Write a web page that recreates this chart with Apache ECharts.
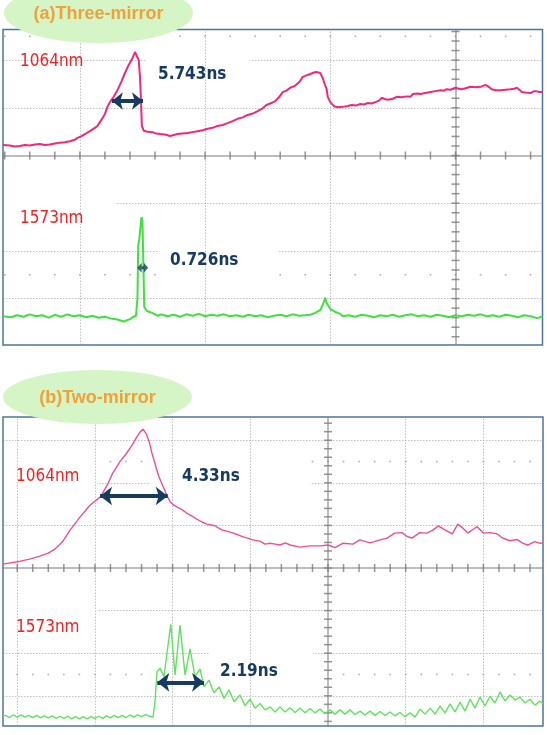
<!DOCTYPE html>
<html>
<head>
<meta charset="utf-8">
<script src="https://cdn.jsdelivr.net/npm/echarts@6/dist/echarts.min.js"></script>
<style>
  html, body { margin: 0; padding: 0; background: #fff; }
  #chart { width: 547px; height: 735px; }
</style>
</head>
<body>
<div id="chart"></div>
<script>
// oscilloscope traces in divisions (x: time div, y: volt div, 0 = centre axes)

// (a) three-mirror, 1064nm
var pinkA = [
  [-3.614,0.22],[-3.56,0.21],[-3.52,0.19],[-3.48,0.20],[-3.44,0.22],[-3.40,0.21],[-3.36,0.23],[-3.32,0.24],
  [-3.28,0.22],[-3.24,0.23],[-3.20,0.25],[-3.16,0.27],[-3.12,0.28],[-3.08,0.30],[-3.04,0.33],[-3.02,0.37],
  [-2.99,0.40],[-2.96,0.45],[-2.92,0.51],[-2.88,0.58],[-2.86,0.62],[-2.84,0.70],[-2.82,0.78],[-2.80,0.87],
  [-2.78,1.02],[-2.76,1.12],[-2.73,1.23],[-2.70,1.37],[-2.67,1.54],[-2.64,1.73],[-2.61,1.90],[-2.58,2.04],
  [-2.56,2.17],[-2.545,2.15],[-2.53,2.00],[-2.52,1.65],[-2.512,1.16],[-2.505,0.62],[-2.49,0.52],[-2.48,0.51],
  [-2.46,0.50],[-2.42,0.49],[-2.39,0.46],[-2.36,0.45],[-2.32,0.44],[-2.28,0.41],[-2.25,0.43],[-2.22,0.45],
  [-2.18,0.46],[-2.14,0.47],[-2.10,0.49],[-2.06,0.51],[-2.02,0.53],[-1.98,0.56],[-1.94,0.58],[-1.90,0.62],
  [-1.86,0.64],[-1.82,0.68],[-1.78,0.72],[-1.74,0.77],[-1.70,0.80],[-1.66,0.85],[-1.62,0.88],[-1.58,0.93],
  [-1.54,0.99],[-1.51,1.06],[-1.47,1.10],[-1.44,1.14],[-1.41,1.22],[-1.38,1.33],[-1.35,1.36],[-1.32,1.42],
  [-1.29,1.45],[-1.27,1.49],[-1.24,1.56],[-1.22,1.65],[-1.19,1.68],[-1.16,1.71],[-1.13,1.74],[-1.11,1.75],
  [-1.08,1.73],[-1.06,1.62],[-1.045,1.50],[-1.03,1.40],[-1.02,1.23],[-1.00,1.12],[-0.98,1.06],[-0.96,1.02],
  [-0.93,1.01],[-0.90,1.02],[-0.86,1.04],[-0.83,1.06],[-0.79,1.05],[-0.76,1.08],[-0.73,1.07],[-0.70,1.10],
  [-0.67,1.09],[-0.64,1.12],[-0.61,1.15],[-0.59,1.21],[-0.56,1.18],[-0.54,1.17],[-0.50,1.19],[-0.47,1.23],
  [-0.43,1.22],[-0.39,1.24],[-0.36,1.23],[-0.34,1.29],[-0.33,1.31],[-0.30,1.30],[-0.28,1.29],[-0.24,1.31],
  [-0.20,1.33],[-0.16,1.35],[-0.12,1.37],[-0.09,1.36],[-0.07,1.39],[-0.04,1.38],[0.00,1.42],[0.03,1.40],
  [0.05,1.39],[0.08,1.41],[0.12,1.44],[0.16,1.43],[0.20,1.44],[0.22,1.46],[0.24,1.48],[0.26,1.45],
  [0.29,1.39],[0.32,1.37],[0.36,1.37],[0.40,1.38],[0.44,1.39],[0.47,1.40],[0.49,1.42],[0.51,1.38],
  [0.53,1.33],[0.56,1.32],[0.60,1.31],[0.62,1.34],[0.64,1.35],[0.67,1.33],[0.695,1.33]
];

// (a) three-mirror, 1573nm
var greenA = [
  [-3.614,-3.37],[-3.55,-3.39],[-3.50,-3.35],[-3.45,-3.38],[-3.40,-3.33],[-3.35,-3.37],[-3.30,-3.35],[-3.25,-3.40],
  [-3.20,-3.34],[-3.15,-3.38],[-3.10,-3.33],[-3.05,-3.37],[-3.00,-3.35],[-2.95,-3.39],[-2.90,-3.36],[-2.85,-3.40],
  [-2.80,-3.38],[-2.75,-3.42],[-2.70,-3.44],[-2.65,-3.48],[-2.60,-3.43],[-2.57,-3.38],[-2.552,-3.36],
  [-2.540,-2.99],[-2.534,-1.88],[-2.526,-1.77],[-2.518,-1.56],[-2.508,-1.29],[-2.500,-1.39],[-2.492,-2.40],
  [-2.486,-3.18],[-2.464,-3.26],[-2.424,-3.30],[-2.376,-3.36],
  [-2.35,-3.33],[-2.30,-3.37],[-2.25,-3.34],[-2.20,-3.38],[-2.15,-3.33],[-2.10,-3.36],[-2.05,-3.32],[-2.00,-3.37],
  [-1.95,-3.34],[-1.90,-3.36],[-1.85,-3.33],[-1.80,-3.37],[-1.75,-3.35],[-1.70,-3.38],[-1.65,-3.34],[-1.60,-3.37],
  [-1.55,-3.35],[-1.50,-3.39],[-1.45,-3.36],[-1.40,-3.34],[-1.35,-3.37],[-1.30,-3.33],[-1.25,-3.36],[-1.20,-3.35],
  [-1.16,-3.34],[-1.12,-3.30],[-1.08,-3.24],[-1.06,-3.13],[-1.04,-2.98],[-1.03,-3.09],[-1.00,-3.22],[-0.96,-3.28],
  [-0.92,-3.32],[-0.90,-3.37],[-0.85,-3.35],[-0.80,-3.38],[-0.75,-3.34],[-0.70,-3.36],[-0.65,-3.39],[-0.60,-3.35],
  [-0.55,-3.37],[-0.50,-3.34],[-0.45,-3.38],[-0.40,-3.35],[-0.35,-3.33],[-0.30,-3.37],[-0.25,-3.35],[-0.20,-3.38],
  [-0.15,-3.34],[-0.10,-3.36],[-0.05,-3.39],[0.00,-3.35],[0.05,-3.37],[0.10,-3.34],[0.15,-3.36],[0.20,-3.33],
  [0.25,-3.37],[0.30,-3.35],[0.35,-3.38],[0.40,-3.34],[0.45,-3.36],[0.50,-3.39],[0.55,-3.35],[0.60,-3.37],
  [0.65,-3.41],[0.695,-3.38]
];

// (b) two-mirror, 1064nm
var pinkB = [
  [-4.183,0.09],[-4.09,0.12],[-3.96,0.16],[-3.84,0.21],[-3.71,0.28],[-3.60,0.35],[-3.51,0.45],[-3.42,0.61],
  [-3.32,0.89],[-3.19,1.20],[-3.06,1.48],[-2.93,1.67],[-2.84,1.95],[-2.77,2.23],[-2.68,2.49],[-2.59,2.70],
  [-2.52,2.89],[-2.46,3.08],[-2.42,3.19],[-2.38,3.26],[-2.34,3.15],[-2.30,2.96],[-2.27,2.72],[-2.23,2.47],
  [-2.18,2.16],[-2.12,1.90],[-2.07,1.69],[-2.03,1.55],[-1.98,1.47],[-1.94,1.43],[-1.88,1.37],[-1.82,1.29],
  [-1.75,1.22],[-1.69,1.15],[-1.62,1.08],[-1.56,1.03],[-1.50,1.01],[-1.45,0.99],[-1.41,0.94],[-1.36,0.89],
  [-1.29,0.86],[-1.22,0.82],[-1.16,0.78],[-1.09,0.73],[-1.03,0.70],[-0.97,0.66],[-0.88,0.63],[-0.81,0.56],
  [-0.75,0.58],[-0.68,0.56],[-0.62,0.54],[-0.55,0.59],[-0.49,0.54],[-0.36,0.49],[-0.23,0.52],[-0.10,0.52],
  [0.00,0.54],[0.09,0.48],[0.19,0.58],[0.32,0.56],[0.41,0.66],[0.54,0.59],[0.67,0.66],[0.76,0.70],
  [0.86,0.82],[0.95,0.83],[1.02,0.74],[1.08,0.70],[1.18,0.83],[1.27,0.82],[1.35,0.89],[1.42,0.99],
  [1.51,0.89],[1.60,0.80],[1.67,1.03],[1.74,0.93],[1.80,0.82],[1.87,0.91],[1.92,0.97],[2.00,0.82],
  [2.09,0.83],[2.18,0.80],[2.25,0.70],[2.34,0.64],[2.43,0.67],[2.51,0.58],[2.57,0.54],[2.66,0.62],
  [2.73,0.58],[2.767,0.59]
];

// (b) two-mirror, 1573nm
var greenB = [
  [-4.183,-3.47],[-4.15,-3.46],[-4.10,-3.51],[-4.05,-3.45],[-4.00,-3.50],[-3.95,-3.45],[-3.90,-3.50],[-3.85,-3.46],
  [-3.80,-3.51],[-3.75,-3.46],[-3.70,-3.52],[-3.65,-3.47],[-3.60,-3.52],[-3.55,-3.47],[-3.50,-3.53],[-3.45,-3.48],
  [-3.40,-3.53],[-3.35,-3.48],[-3.30,-3.54],[-3.25,-3.49],[-3.20,-3.54],[-3.15,-3.49],[-3.10,-3.54],[-3.05,-3.49],
  [-3.00,-3.53],[-2.95,-3.48],[-2.90,-3.53],[-2.85,-3.47],[-2.80,-3.52],[-2.75,-3.46],[-2.70,-3.51],[-2.65,-3.46],
  [-2.60,-3.51],[-2.55,-3.45],[-2.50,-3.50],[-2.45,-3.45],[-2.40,-3.49],[-2.35,-3.44],[-2.30,-3.48],
  [-2.252,-3.50],[-2.227,-3.15],[-2.201,-2.44],[-2.162,-2.35],[-2.111,-2.55],[-2.024,-1.32],[-1.969,-2.51],
  [-1.905,-1.34],[-1.840,-2.51],[-1.776,-1.90],[-1.712,-2.55],[-1.647,-2.37],[-1.596,-2.79],[-1.532,-2.63],
  [-1.467,-2.93],[-1.403,-2.79],[-1.338,-3.06],[-1.274,-2.86],[-1.210,-3.14],[-1.133,-2.98],[-1.068,-3.23],
  [-1.004,-3.08],[-0.940,-3.29],[-0.875,-3.18],[-0.811,-3.33],[-0.746,-3.26],[-0.682,-3.38],[-0.618,-3.26],
  [-0.553,-3.38],[-0.489,-3.28],[-0.425,-3.39],[-0.360,-3.29],[-0.296,-3.40],[-0.232,-3.30],[-0.167,-3.40],
  [-0.103,-3.31],[-0.039,-3.42],[0.026,-3.33],[0.090,-3.43],[0.154,-3.33],[0.219,-3.43],[0.283,-3.33],
  [0.347,-3.44],[0.412,-3.36],[0.476,-3.45],[0.541,-3.36],[0.605,-3.46],[0.669,-3.37],[0.734,-3.46],
  [0.798,-3.38],[0.862,-3.47],[0.927,-3.39],[0.991,-3.49],[1.055,-3.40],[1.120,-3.50],[1.184,-3.31],
  [1.248,-3.43],[1.313,-3.29],[1.377,-3.43],[1.441,-3.24],[1.506,-3.40],[1.570,-3.19],[1.634,-3.38],
  [1.699,-3.15],[1.763,-3.36],[1.828,-3.08],[1.892,-3.29],[1.956,-3.03],[2.021,-3.24],[2.085,-3.01],
  [2.149,-3.17],[2.214,-2.91],[2.278,-3.12],[2.342,-2.98],[2.407,-3.10],[2.471,-3.03],[2.535,-3.17],
  [2.600,-3.08],[2.664,-3.22],[2.728,-3.12],[2.767,-3.19]
];

// pulse-width markers [x1, x2, y]
var widthA1064 = [-2.744, -2.496, 1.143];
var widthA1573 = [-2.498, -2.352];
var widthB1064 = [-2.934, -2.063, 1.690];
var widthB1573 = [-2.197, -1.596, -2.683];

// visible screen range of each panel, in divisions
var rangeA = { x: [-3.614, 0.695], y: [-3.973, 2.642] };
var rangeB = { x: [-4.183, 2.767], y: [-3.709, 3.545] };
var divLinesA = { x: [-3, -2, -1], y: [2, 1, -1, -2, -3] };
var divLinesB = { x: [-4, -3, -2, -1, 1, 2], y: [3, 2, 1, -1, -2, -3] };

var NAVY = '#173a63';
var LABEL_FONT = '"DejaVu Sans Condensed", "DejaVu Sans", sans-serif';

function steps(a, b, s) {
  var out = [];
  for (var v = a; v <= b + 1e-9; v += s) out.push(Math.round(v * 100) / 100);
  return out;
}

function vLines(idx, xs, r, style, z) {
  return {
    type: 'lines', coordinateSystem: 'cartesian2d', xAxisIndex: idx, yAxisIndex: idx,
    silent: true, z: z, lineStyle: style,
    data: xs.map(function (x) { return { coords: [[x, r.y[0]], [x, r.y[1]]] }; })
  };
}
function hLines(idx, ys, r, style, z) {
  return {
    type: 'lines', coordinateSystem: 'cartesian2d', xAxisIndex: idx, yAxisIndex: idx,
    silent: true, z: z, lineStyle: style,
    data: ys.map(function (y) { return { coords: [[r.x[0], y], [r.x[1], y]] }; })
  };
}
function marks(idx, pts, size, color, z) {
  return {
    type: 'scatter', xAxisIndex: idx, yAxisIndex: idx, silent: true, z: z,
    symbol: 'rect', symbolSize: size, itemStyle: { color: color }, data: pts
  };
}

// screen furniture: dotted divisions, solid centre axes with 0.2-div ticks, dotted marker rows
function screenSeries(idx, r, div) {
  var dotted = { color: '#858585', width: 1, type: [1.5, 1.5] };
  var solid = { color: '#7a7a7a', width: 2, type: 'solid' };
  var xt = steps(Math.ceil(r.x[0] * 5) / 5, r.x[1], 0.2);
  var yt = steps(Math.ceil(r.y[0] * 5) / 5, r.y[1], 0.2);
  return [
    hLines(idx, div.y, r, dotted, 1),
    vLines(idx, div.x, r, dotted, 2),
    hLines(idx, [0], r, solid, 2),
    vLines(idx, [0], r, solid, 2),
    marks(idx, xt.map(function (x) { return [x, 0]; }), [1.5, 8], '#7a7a7a', 2),
    marks(idx, yt.map(function (y) { return [0, y]; }), [8, 1.5], '#7a7a7a', 2),
    marks(idx, xt.map(function (x) { return [x, 2.5]; }).concat(xt.map(function (x) { return [x, -2.5]; })),
      1.6, '#9a9a9a', 1)
  ];
}

function trace(idx, data, color, width) {
  return {
    type: 'line', xAxisIndex: idx, yAxisIndex: idx, data: data, z: 3,
    symbol: 'none', silent: true, clip: true,
    lineStyle: { color: color, width: width }
  };
}

function widthArrow(x1, x2, y, size) {
  return {
    silent: true, symbol: ['arrow', 'arrow'], symbolSize: size, z: 5,
    label: { show: false }, emphasis: { disabled: true },
    lineStyle: { color: NAVY, width: 4, type: 'solid' },
    data: [[{ coord: [x1, y] }, { coord: [x2, y] }]]
  };
}

var sPinkA = trace(0, pinkA, '#f0287c', 2);
sPinkA.markLine = widthArrow(widthA1064[0], widthA1064[1], widthA1064[2], [13, 11]);
var sGreenA = trace(0, greenA, '#3fe03f', 2);
var sPinkB = trace(1, pinkB, '#ec4f93', 1.4);
sPinkB.markLine = widthArrow(widthB1064[0], widthB1064[1], widthB1064[2], [14, 12]);
var sGreenB = trace(1, greenB, '#5fe35f', 1.4);
sGreenB.markLine = widthArrow(widthB1573[0], widthB1573[1], widthB1573[2], [14, 12]);
var sStar = {
  type: 'scatter', xAxisIndex: 0, yAxisIndex: 0, silent: true, z: 5,
  symbol: 'path://M0,5 L4,0 L4,3.5 L6,3.5 L6,0 L10,5 L6,10 L6,6.5 L4,6.5 L4,10 Z',
  symbolSize: [11, 10], itemStyle: { color: NAVY },
  data: [[widthA1573[0], widthA1573[1]]]
};

function label(text, x, y, color, bold) {
  return {
    type: 'text', x: x, y: y, z: 6, silent: true,
    style: {
      text: text, fill: color, verticalAlign: 'middle',
      font: (bold ? 'bold ' : '') + '17px ' + LABEL_FONT
    }
  };
}
function blank(x, y, w, h) {
  return { type: 'rect', z: 1.5, silent: true, shape: { x: x, y: y, width: w, height: h }, style: { fill: '#fff' } };
}
function badge(text, cx, cy, rx, ry) {
  return [
    { type: 'ellipse', z: 10, silent: true, shape: { cx: cx, cy: cy, rx: rx, ry: ry }, style: { fill: '#d5f5c6' } },
    {
      type: 'text', x: cx, y: cy + 1, z: 11, silent: true,
      style: {
        text: text, fill: '#f0a23a', align: 'center', verticalAlign: 'middle',
        font: 'bold 18px "Liberation Sans", Arial, sans-serif'
      }
    }
  ];
}

var chart = echarts.init(document.getElementById('chart'));
chart.setOption({
  animation: false,
  backgroundColor: '#fff',
  grid: [
    { left: 3, right: 4.5, top: 29.5, bottom: 390, show: true, borderColor: '#4d74a0', borderWidth: 1.5, backgroundColor: '#fff' },
    { left: 3, right: 4, top: 417, bottom: 9, show: true, borderColor: '#4d74a0', borderWidth: 1.5, backgroundColor: '#fff' }
  ],
  xAxis: [
    { type: 'value', gridIndex: 0, min: rangeA.x[0], max: rangeA.x[1], show: false },
    { type: 'value', gridIndex: 1, min: rangeB.x[0], max: rangeB.x[1], show: false }
  ],
  yAxis: [
    { type: 'value', gridIndex: 0, min: rangeA.y[0], max: rangeA.y[1], show: false },
    { type: 'value', gridIndex: 1, min: rangeB.y[0], max: rangeB.y[1], show: false }
  ],
  series: screenSeries(0, rangeA, divLinesA)
    .concat(screenSeries(1, rangeB, divLinesB))
    .concat([sPinkA, sGreenA, sPinkB, sGreenB, sStar]),
  graphic: [
    blank(146, 48, 104, 47),
    blank(4, 195, 111, 43),
    blank(158, 243, 120, 39),
    blank(4, 455, 93, 50),
    blank(150, 455, 160, 45),
    blank(4, 600, 94, 45),
    blank(210, 645, 103, 45),
    blank(148, 668, 194, 17),
    label('1064nm', 20, 62, '#ee2222', false),
    label('5.743ns', 158, 75, NAVY, true),
    label('1573nm', 20, 219, '#ee2222', false),
    label('0.726ns', 170, 261, NAVY, true),
    label('1064nm', 16, 477, '#ee2222', false),
    label('4.33ns', 182, 477, NAVY, true),
    label('1573nm', 16, 628, '#ee2222', false),
    label('2.19ns', 220, 672, NAVY, true)
  ].concat(badge('(a)Three-mirror', 98.5, 13, 94.5, 30))
   .concat(badge('(b)Two-mirror', 97.5, 397, 94.5, 27))
});
</script>
</body>
</html>
